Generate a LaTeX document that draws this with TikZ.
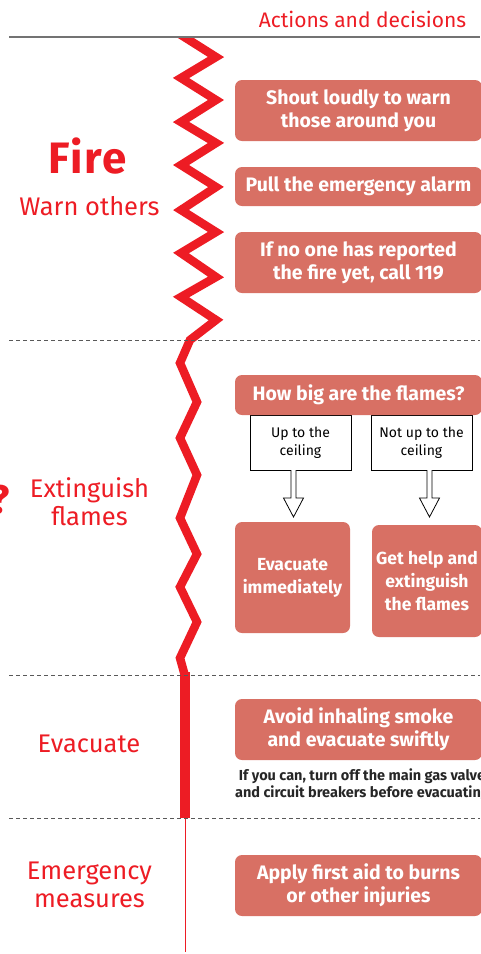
\documentclass[tikz,border=0pt]{standalone}
\usepackage{fontspec}
\setmainfont{Fira Sans}
\definecolor{fred}{RGB}{237,28,36}
\definecolor{boxc}{RGB}{216,112,100}
\begin{document}
\begin{tikzpicture}[x=1pt,y=-1pt,
  box/.style={fill=boxc, rounded corners=7pt, text=white, font=\bfseries\fontsize{19.5}{23}\selectfont, align=center, inner sep=0pt},
  sbox/.style={box, font=\bfseries\fontsize{17.5}{23}\selectfont},
  lbl/.style={text=fred, font=\fontsize{25.5}{28}\selectfont, align=center},
  branch/.style={draw=black, line width=0.8pt, fill=white, font=\fontsize{14}{18}\selectfont, align=center, inner sep=0pt},
  sep/.style={draw=black!65, line width=0.8pt, dash pattern=on 4pt off 3pt},
  hollow/.style={draw=black, line width=0.8pt, fill=white, line join=miter}]
\useasboundingbox (0,0) rectangle (480,954);

% zigzag
\begin{scope}
\clip (0,37) rectangle (480,954);
\draw[fred, line width=8.5pt, line join=miter] (178,33) -- (216,57) -- (181,78) -- (216,100) -- (181,122) -- (216,143) -- (181,165) -- (216,187) -- (181,210) -- (216,232) -- (181,253) -- (216,277) -- (181,297) -- (216,320) -- (190,340) -- (180,363) -- (197,402) -- (180,438) -- (197,475) -- (180,518) -- (197,554) -- (180,587) -- (197,622) -- (180,658) -- (185,676);
\end{scope}
\draw[fred, line width=10pt] (185,672) -- (185,818);
\draw[fred, line width=1pt] (185,818) -- (185,952);

% header
\draw[black!55, line width=1.2pt] (9,37) -- (480,37);
\node[text=fred, font=\fontsize{21}{24}\selectfont, anchor=base] (hdr) at (362.5,27) {Actions and decisions};

% separators
\draw[sep] (9,340) -- (480,340);
\draw[sep] (9,675) -- (480,675);
\draw[sep] (9,818) -- (480,818);

% left labels
\node[text=fred, font=\bfseries\fontsize{44}{44}\selectfont\addfontfeatures{LetterSpace=4}, anchor=base] (fire) at (88,173) {Fire};
\node[lbl, anchor=base] (warn) at (89.5,215) {Warn others};
\node[text=fred, font=\bfseries\fontsize{40}{40}\selectfont, anchor=base] (q) at (0,513) {?};
\node[lbl] (ext) at (89.5,502) {Extinguish\\flames};
\node[lbl, anchor=base] (evac) at (89,752) {Evacuate};
\node[lbl] (emer) at (89.5,885) {Emergency\\measures};

% boxes
\node[box, minimum width=247pt, minimum height=61pt] (b1) at (358.5,110.5) {Shout loudly to warn\\those around you};
\node[box, minimum width=247pt, minimum height=39pt] (b2) at (358.5,186.5) {Pull the emergency alarm};
\node[box, minimum width=247pt, minimum height=61pt] (b3) at (358.5,262.5) {If no one has reported\\the fire yet, call 119};

\node[branch, minimum width=101pt, minimum height=55pt] (r1) at (300.5,442.5) {Up to the\\ceiling};
\node[branch, minimum width=101pt, minimum height=55pt] (r2) at (421.5,442.5) {Not up to the\\ceiling};
\node[box, minimum width=247pt, minimum height=40pt] (b4) at (358.5,395) {How big are the flames?};

\node[sbox, minimum width=115pt, minimum height=111pt] (b5) at (292.5,577.5) {Evacuate\\immediately};
\node[sbox, minimum width=110pt, minimum height=112pt] (b6) at (427,581) {Get help and\\extinguish\\the flames};

% hollow arrows
\coordinate (a1s) at (293.5,470);
\coordinate (a1e) at (293.5,517);
\coordinate (a2s) at (429.5,470);
\coordinate (a2e) at (429.5,517);
\draw[hollow] (a1s) ++(-2.5,0) -- ++(0,28) -- ++(-7.5,0) -- (a1e) -- ++(10,-19) -- ++(-7.5,0) -- ++(0,-28);
\draw[hollow] (a2s) ++(-2.5,0) -- ++(0,28) -- ++(-7.5,0) -- (a2e) -- ++(10,-19) -- ++(-7.5,0) -- ++(0,-28);

\node[box, minimum width=247pt, minimum height=61pt] (b7) at (358.5,729.5) {Avoid inhaling smoke\\and evacuate swiftly};
\node[font=\bfseries\fontsize{14.5}{17}\selectfont, text=black!85, align=center] (note) at (362,785) {If you can, turn off the main gas valve\\and circuit breakers before evacuating};
\node[box, minimum width=247pt, minimum height=61pt] (b8) at (358.5,885.5) {Apply first aid to burns\\or other injuries};
\end{tikzpicture}
\end{document}
